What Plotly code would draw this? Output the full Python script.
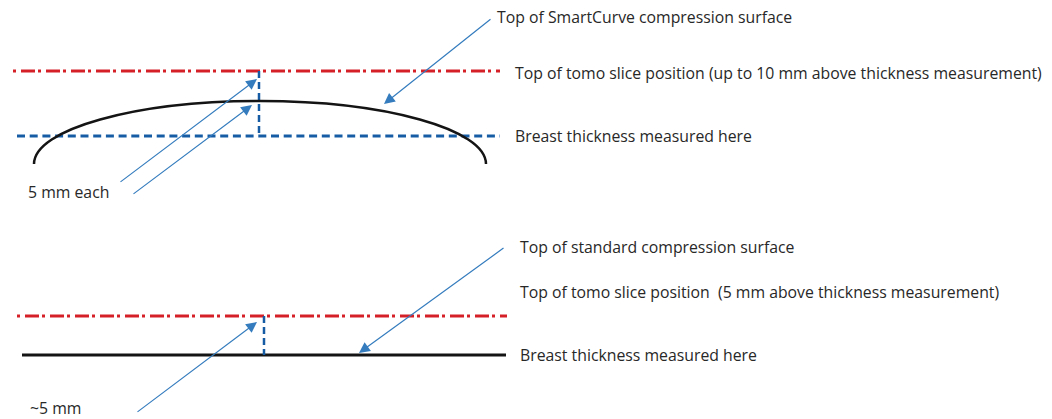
import plotly.graph_objects as go

W, H = 1052, 419

# ---- diagram geometry (pixel space of the picture) ----
# Top panel (SmartCurve)
top_red_y = 71
top_red_x = [13, 500]
top_blue_y = 136
top_blue_x = [17, 500]
top_vert_x = 259
curve_center = (260, 164)
curve_radii = (226, 63)

# Bottom panel (standard)
bot_red_y = 316
bot_red_x = [17, 507]
bot_black_y = 355
bot_black_x = [22, 506]
bot_vert_x = 264

# arrows: (tail_x, tail_y, head_x, head_y)
arrows = [
    (119, 183, 257, 79),
    (132, 195, 252, 105),
    (492, 18, 384, 104),
    (136, 413, 257, 322),
    (505, 247, 359, 353),
]

# labels: (x, y, text)
labels = [
    (495, 17, "Top of SmartCurve compression surface"),
    (513, 73, "Top of tomo slice position (up to 10 mm above thickness measurement)"),
    (513, 136, "Breast thickness measured here"),
    (26, 192, "5 mm each"),
    (518, 247, "Top of standard compression surface"),
    (518, 292, "Top of tomo slice position  (5 mm above thickness measurement)"),
    (518, 355, "Breast thickness measured here"),
    (28, 408, "~5 mm"),
]

RED = "rgb(214,32,40)"
BLUE = "rgb(22,92,165)"
ARROW = "rgb(52,124,190)"
BLACK = "rgb(20,20,20)"
TEXT = "rgb(40,40,40)"

fig = go.Figure()

def hline(xs, y, color, dash, width):
    fig.add_trace(go.Scatter(x=xs, y=[y, y], mode="lines",
                             line=dict(color=color, dash=dash, width=width),
                             hoverinfo="skip", showlegend=False))

def vline(x, ys, color, dash, width):
    fig.add_trace(go.Scatter(x=[x, x], y=ys, mode="lines",
                             line=dict(color=color, dash=dash, width=width),
                             hoverinfo="skip", showlegend=False))

REDDASH = "3px,5px,14px,3px"
BLUEDASH = "8px,4.7px"
VDASH = "7px,4px"

hline(top_red_x, top_red_y, RED, REDDASH, 3)
hline(top_blue_x, top_blue_y, BLUE, BLUEDASH, 3)
vline(top_vert_x, [top_red_y, top_blue_y], BLUE, VDASH, 2.5)

hline(bot_red_x, bot_red_y, RED, REDDASH, 3)
hline(bot_black_x, bot_black_y, BLACK, "solid", 3)
vline(bot_vert_x, [bot_red_y, bot_black_y], BLUE, VDASH, 2.5)

# elliptical compression surface (two cubic Bezier quarter arcs)
cx, cy = curve_center
a, b = curve_radii
k = 0.5523
path = (f"M {cx-a},{cy} C {cx-a},{cy-k*b} {cx-k*a},{cy-b} {cx},{cy-b} "
        f"C {cx+k*a},{cy-b} {cx+a},{cy-k*b} {cx+a},{cy}")
fig.add_shape(type="path", path=path, xref="x", yref="y",
              line=dict(color=BLACK, width=2.5))

for tx, ty, hx, hy in arrows:
    fig.add_annotation(x=hx, y=hy, ax=tx, ay=ty, xref="x", yref="y",
                       axref="x", ayref="y", text="", showarrow=True,
                       arrowhead=2, arrowsize=1.8, arrowwidth=1.2,
                       arrowcolor=ARROW, standoff=0)

for x, y, t in labels:
    fig.add_annotation(x=x, y=y, xref="x", yref="y", text=t, showarrow=False,
                       xanchor="left", yanchor="middle",
                       font=dict(family="Open Sans, sans-serif", size=15.8, color=TEXT))

fig.update_layout(
    width=W, height=H,
    margin=dict(l=0, r=0, t=0, b=0),
    paper_bgcolor="white", plot_bgcolor="white",
    xaxis=dict(range=[0, W], visible=False, fixedrange=True),
    yaxis=dict(range=[H, 0], visible=False, fixedrange=True),
    showlegend=False,
    hovermode=False,
)

fig.write_html(
    "out.html",
    config={"displayModeBar": False, "staticPlot": True},
    post_script="document.body.style.margin='0';document.body.style.overflow='hidden';",
)
